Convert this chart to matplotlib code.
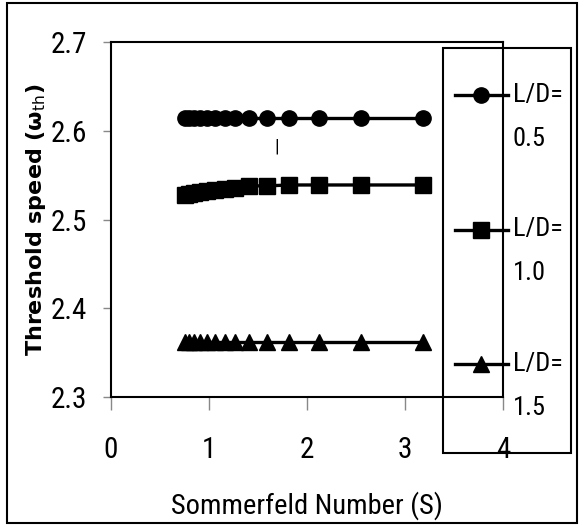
import numpy as np
import matplotlib
matplotlib.use("Agg")
import matplotlib.pyplot as plt
from matplotlib.patches import Rectangle
from matplotlib import font_manager

# Sommerfeld number values (same for the three L/D cases)
s_vals = [0.75, 0.80, 0.85, 0.91, 0.98, 1.06, 1.16, 1.27, 1.41, 1.59, 1.82, 2.12, 2.55, 3.18]
w_ld05 = [2.614, 2.614, 2.614, 2.614, 2.614, 2.614, 2.614, 2.614, 2.614, 2.614, 2.614, 2.614, 2.614, 2.614]
w_ld10 = [2.528, 2.529, 2.530, 2.531, 2.532, 2.533, 2.535, 2.536, 2.538, 2.538, 2.539, 2.539, 2.539, 2.539]
w_ld15 = [2.362, 2.362, 2.362, 2.362, 2.362, 2.362, 2.362, 2.362, 2.362, 2.362, 2.362, 2.362, 2.362, 2.362]
labels = ["\nL/D=\n0.5", "\nL/D=\n1.0", "\nL/D=\n1.5"]

# pick a narrow face, something close to Calibri
have = {f.name for f in font_manager.fontManager.ttflist}
narrow_name = "DejaVu Sans"
for cand in ["Liberation Sans Narrow", "Roboto Condensed", "Open Sans Condensed",
             "Noto Sans Condensed", "DejaVu Sans Condensed"]:
    if cand in have:
        narrow_name = cand
        break
fam = [narrow_name, "DejaVu Sans"]
narrow = {"family": fam, "stretch": "condensed"}

fig = plt.figure(figsize=(5.81, 5.27), dpi=100)
ax = fig.add_axes([0.191, 0.2467, 0.675, 0.6733])

ax.plot(s_vals, w_ld05, color="black", lw=2.4, marker="o", ms=11, label=labels[0])
ax.plot(s_vals, w_ld10, color="black", lw=2.4, marker="s", ms=11, label=labels[1])
ax.plot(s_vals, w_ld15, color="black", lw=2.4, marker="^", ms=11, label=labels[2])

ax.text(1.69, 2.582, "|", ha="center", va="center", fontsize=14, **narrow)

ax.set_xlim(0, 4)
ax.set_ylim(2.3, 2.7)
ax.set_xticks([0, 1, 2, 3, 4])
ax.set_yticks([2.3, 2.4, 2.5, 2.6, 2.7])
ax.set_yticklabels(["2.3", "2.4", "2.5", "2.6", "2.7"])
for lab in ax.get_xticklabels() + ax.get_yticklabels():
    lab.set_family(fam)
    lab.set_stretch("condensed")
    lab.set_fontsize(21)
ax.tick_params(axis="y", direction="out", length=6, width=1, color="#888888", pad=11)
ax.tick_params(axis="x", direction="out", length=9, width=1, color="#888888", pad=19)
for sp in ax.spines.values():
    sp.set_linewidth(1.5)
    sp.set_color("black")

ax.set_xlabel("Sommerfeld Number (S)", fontsize=20.5, labelpad=20, **narrow)
ax.set_ylabel("Threshold speed (ω$_{\\rm th}$)", fontsize=16, fontweight="bold", labelpad=2)

leg = fig.legend(loc="upper left", bbox_to_anchor=(0.783, 0.9265), borderaxespad=0,
                 frameon=False, prop={"family": fam, "stretch": "condensed", "size": 19},
                 handlelength=2.0, handletextpad=0.2, labelspacing=0.84, borderpad=0.0)
for t in leg.get_texts():
    t.set_linespacing(2.06)

# legend frame and outer border
fig.patches.append(Rectangle((443 / 581, 1 - 453 / 527), 128 / 581, 405 / 527,
                             transform=fig.transFigure, fill=False, edgecolor="black", lw=1.5))
fig.patches.append(Rectangle((0.012, 0.008), 0.981, 0.986, transform=fig.transFigure,
                             fill=False, edgecolor="black", lw=1.5))

fig.savefig("out.png", dpi=100)
